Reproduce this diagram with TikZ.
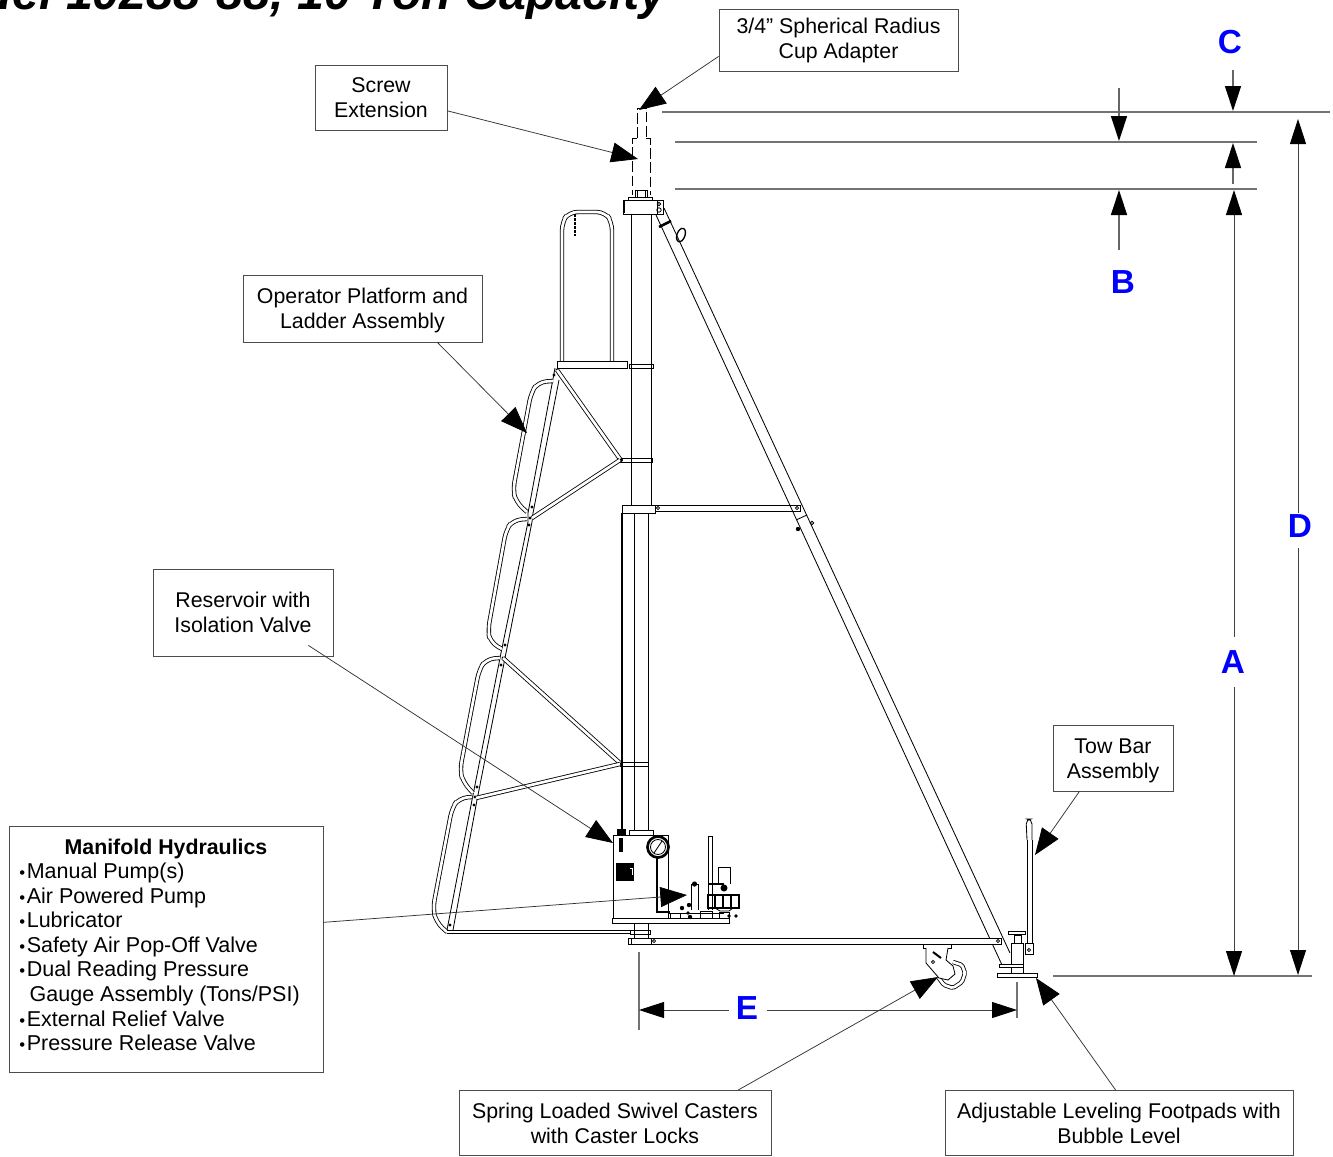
\documentclass[tikz,border=0pt]{standalone}
\usepackage{fontspec}
\setmainfont{Liberation Sans}
\usetikzlibrary{arrows.meta}
\newcommand{\itm}{{\fontsize{10}{8}\selectfont •}\hspace{1pt}}
\tikzset{
  callout/.style={draw=black!70, line width=.5pt, align=center, inner sep=0pt,
    font=\fontsize{12.8}{15}\selectfont},
  leader/.style={draw=black!80, line width=.45pt, -{Triangle[length=16pt,width=12pt,fill=black,color=black]}},
  dimline/.style={draw=black!55, line width=.9pt},
  dimarrow/.style={draw=black!60, line width=.8pt, -{Triangle[length=15pt,width=9.6pt,fill=black,color=black]}},
  longarrow/.style={draw=black!75, line width=.55pt, -{Triangle[length=15pt,width=9.6pt,fill=black,color=black]}},
  dimlabel/.style={text=blue, inner sep=0pt, font=\fontsize{20}{20}\bfseries\selectfont},
  part/.style={draw=black, line width=.5pt},
  heavy/.style={draw=black, line width=1.1pt},
  rail/.style={draw=black, line width=.5pt, double=white, double distance=1.6pt, rounded corners=5pt},
  dashline/.style={draw=black, line width=.6pt, dash pattern=on 6.5pt off 2pt}
}
\begin{document}
\begin{tikzpicture}[x=0.6pt, y=-0.6pt]
  \useasboundingbox (0,0) rectangle (1333,1156);
  \node[anchor=base east, font=\fontsize{29}{30}\bfseries\itshape\selectfont] (title) at (672,9) {Model 10288-88, 10 Ton Capacity};

  % column and collar
  \draw[part] (631,214) -- (631,505) (651,214) -- (651,505);
  \draw[part] (634,513) -- (634,830) (648,513) -- (648,830);
  \draw[part, fill=white] (623,200) rectangle (663,214);
  \draw[heavy] (624,201) -- (624,213);
  \draw[part] (657,200) -- (657,214) (628,200) -- (628,197) -- (652,197) -- (652,200);
  \draw[part] (635,197) -- (635,190) -- (647,190) -- (647,197) (637,190) -- (637,197) (645,190) -- (645,197);
  \draw[part] (659,204) circle (1.8) (659,210) circle (2.2);
  \draw[dashline] (637,138) -- (637,108) -- (646,108) -- (646,138);
  \draw[dashline] (637,138) -- (632,138) -- (632,195) (646,138) -- (650,138) -- (650,195);
  \draw[heavy] (622,513) -- (622,830);

  % long brace
  \draw[part] (656,215) -- (1002,965) (664,208) -- (1010,953);
  \draw[line width=1.5pt] (659,227) -- (671,221);
  \draw[part] (796,520) -- (807,515);
  \fill (798,529) circle (2.2);
  \draw[part] (812,523) circle (1.8);
  \draw[line width=.8pt, rotate around={-20:(681,235)}] (681,235) ellipse (4 and 7);

  % bands and bars on the column
  \draw[part, fill=white] (622,505) rectangle (655,513);
  \draw[part] (655,505) -- (800,505) -- (800,511) -- (655,511);
  \draw[part] (797,508) circle (1.6) (658,508) circle (1.6);
  \draw[part] (629,364.5) -- (653,364.5) -- (653,368) -- (629,368) -- cycle;
  \draw[part] (620,458) -- (652,458) -- (652,462) -- (620,462) -- cycle;
  \draw[part] (620,762) -- (648,762) -- (648,766) -- (620,766) -- cycle;
  \draw[part] (630,930) -- (650,930) -- (650,934) -- (630,934) -- cycle;
  \fill (621,460) circle (2) (621,764) circle (2);

  % top rail and platform
  \draw[rail] (562,361) -- (562,222) -- (569,212) -- (605,212) -- (612,222) -- (612,361);
  \draw[line width=1.6pt, dash pattern=on 1.8pt off .6pt] (575,214) -- (575,236);
  \draw[part, fill=white] (557,361) rectangle (627,368);

  % ladder stringers
  \draw[part] (555,368) -- (528,513) -- (528,522) -- (502,648) -- (500,658) -- (473,795) -- (472,800) -- (447,930);
  \draw[part] (559,380) -- (533,513) -- (532,522) -- (507,648) -- (505,658) -- (478,795) -- (477,800) -- (453,930);
  \foreach \px/\py in {557/370,554/375,532/507,530/518,529/525,505/645,503/658,501/665,477/787,475/797,474/805,450/925,447/932}
    \fill (\px,\py) circle (1.6);

  % hand rails, one for each ladder section
  \draw[rail] (553,381) -- (538,382) -- (531,393) -- (513,490) -- (516,502) -- (527,512);
  \draw[rail] (527,519) -- (513,520) -- (506,530) -- (488,630) -- (490,642) -- (502,649);
  \draw[rail] (500,658) -- (486,659) -- (479,670) -- (460,770) -- (463,782) -- (473,793);
  \draw[rail] (472,797) -- (459,798) -- (452,808) -- (433,908) -- (436,922) -- (447,932);

  % ladder braces
  \draw[rail] (557,370) -- (620,459);
  \draw[rail] (620,460) -- (532,518);
  \draw[rail] (503,658) -- (620,763);
  \draw[rail] (620,764) -- (476,798);
  \draw[rail] (447,932) -- (630,932);

  % reservoir and manifold
  \draw[part] (613,835) rectangle (668,918);
  \draw[part, fill=white] (612,918) rectangle (729,923);
  \fill (616,863) rectangle (634,881);
  \draw[white, line width=.4pt] (630,868) -- (632,868) -- (632,875);
  \draw[line width=2pt] (621,838) -- (621,852);
  \fill (617,829) rectangle (626,835);
  \draw[part] (629,830) rectangle (653,835);
  \draw[line width=1.6pt] (658,847) circle (10.5);
  \draw[part] (658,847) circle (7.5);
  \draw[part] (654,853) -- (662,841);
  \draw[line width=.9pt] (657,858) -- (657,912) -- (670,912);
  \draw[part] (691,910) -- (691,884) -- (698,884) -- (698,910);
  \fill (694.5,884) circle (2.6);
  \draw[part] (708,910) -- (708,836) -- (712.5,836) -- (712.5,910);
  \draw[part] (718,884) -- (718,867) -- (730,867) -- (730,884);
  \draw[line width=1.4pt] (709,884) -- (724,884);
  \fill (724,888) circle (3.5);
  \draw[line width=1.1pt] (708,895) rectangle (739,908);
  \draw[line width=1.1pt] (715,895) -- (715,908) (723,895) -- (723,908) (731,895) -- (731,908);
  \draw[part] (715,908) -- (720,911) -- (729,911) -- (733,908);
  \draw[part] (668,913) -- (724,913);
  \draw[part] (670,913) rectangle (680,918) (700,911) rectangle (712,918) (719,912) rectangle (729,918);
  \fill (682,908) circle (2.2) (689,905) circle (2.2) (690,917) circle (2.2) (688,913) circle (1.8) (729,916) circle (1.8) (736,916) circle (1.8);

  % lower frame
  \draw[part] (634,923) -- (634,938) (648,923) -- (648,938);
  \draw[part, fill=white] (628,938) rectangle (1001,944);
  \draw[part] (631,938) -- (631,944) (651,938) -- (651,944);
  \draw[part] (654,941) circle (1.6) (998,941) circle (1.6);

  % caster
  \draw[part] (923,944) rectangle (951,948);
  \draw[rail, rounded corners=1pt] (953,962) -- (962,965) -- (965,973) -- (962,982) -- (953,988) -- (944,985) -- (938,977);
  \draw[part, fill=white] (926,948) -- (926,963) -- (939,978) -- (948,980) -- (955,974) -- (953,966) -- (946,960) -- (948,948);
  \draw[part] (933,962) circle (1.6);
  \draw[line width=1.2pt] (933,952) -- (941,958);

  % foot and tow bar
  \draw[part, fill=white] (1011,943) rectangle (1023,964);
  \draw[part, fill=white] (1014,935) rectangle (1021,943);
  \draw[part, fill=white] (1008,931) rectangle (1025,934);
  \draw[part, fill=white] (999,964) rectangle (1023,967);
  \draw[part] (1011,967) -- (1011,973) (1023,967) -- (1023,973);
  \draw[part, fill=white] (997,973.5) rectangle (1037,977);
  \draw[part] (1027,943) -- (1027,840) (1032,943) -- (1032,840);
  \draw[part, rounded corners=3pt] (1027,840) -- (1026,819) -- (1032,819) -- (1032,840);
  \draw[part, fill=white] (1025,943) rectangle (1033,954);
  \draw[part] (1029,950) circle (1.6);

  % dimension lines
  \draw[dimline] (662,112) -- (1330,112);
  \draw[dimline] (675,142) -- (1257,142);
  \draw[dimline] (675,189) -- (1257,189);
  \draw[dimline] (1053,976) -- (1312,976);
  \draw[dimline] (639,952) -- (639,1030);
  \draw[dimline] (1017,982) -- (1017,1018);

  % dimension labels
  \node[dimlabel] (dimA) at (1233,662) {A};
  \node[dimlabel] (dimB) at (1123,282) {B};
  \node[dimlabel] (dimC) at (1230,42) {C};
  \node[dimlabel] (dimD) at (1300,526) {D};
  \node[dimlabel] (dimE) at (747,1008) {E};

  \coordinate (tipAup) at (1234,190);
  \coordinate (tipAdn) at (1234,976);
  \coordinate (tipDup) at (1298,119);
  \coordinate (tipDdn) at (1298,975);
  \coordinate (tipEl) at (639,1010);
  \coordinate (tipEr) at (1017,1010);
  \draw[longarrow] ([yshift=8pt]dimA.north -| tipAup) -- (tipAup);
  \draw[longarrow] ([yshift=-8pt]dimA.south -| tipAdn) -- (tipAdn);
  \draw[longarrow] ([yshift=1pt]dimD.north -| tipDup) -- (tipDup);
  \draw[longarrow] ([yshift=-6pt]dimD.south -| tipDdn) -- (tipDdn);
  \draw[longarrow] ([xshift=-4pt]dimE.west |- tipEl) -- (tipEl);
  \draw[longarrow] ([xshift=5pt]dimE.east |- tipEr) -- (tipEr);

  \coordinate (fromBa) at (1119,88);
  \coordinate (tipBa) at (1119,141);
  \coordinate (fromBb) at (1119,250);
  \coordinate (tipBb) at (1119,190);
  \coordinate (fromCa) at (1233,70);
  \coordinate (tipCa) at (1233,111);
  \coordinate (fromCb) at (1233,184);
  \coordinate (tipCb) at (1233,143);
  \draw[dimarrow] (fromBa) -- (tipBa);
  \draw[dimarrow] (fromBb) -- (tipBb);
  \draw[dimarrow] (fromCa) -- (tipCa);
  \draw[dimarrow] (fromCb) -- (tipCb);

  % callouts
  \node[callout, minimum width=143.4pt, minimum height=37.2pt] (cupbox) at (838.5,40) {3/4” Spherical Radius\\Cup Adapter};
  \node[callout, minimum width=79.2pt, minimum height=39pt] (screwbox) at (381,97.5) {Screw\\Extension};
  \node[callout, minimum width=143.4pt, minimum height=40.2pt] (platformbox) at (362.5,308.5) {\rule{0pt}{12pt}Operator Platform and\\Ladder Assembly};
  \node[callout, minimum width=108pt, minimum height=52.2pt] (reservoirbox) at (243,612.5) {Reservoir with\\Isolation Valve};
  \node[callout, minimum width=72pt, minimum height=39.6pt] (towbox) at (1113,758) {\rule{0pt}{12pt}Tow Bar\\Assembly};
  \node[callout, minimum width=187.2pt, minimum height=39pt] (casterbox) at (615,1123) {Spring Loaded Swivel Casters\\with Caster Locks};
  \node[callout, minimum width=208.8pt, minimum height=39pt] (footbox) at (1119,1123) {Adjustable Leveling Footpads with\\Bubble Level};
  \node[callout, minimum width=188.4pt, minimum height=147.6pt] (manifoldbox) at (166,949) {};
  \node[font=\fontsize{12.8}{15}\bfseries\selectfont, inner sep=0pt] (manifoldtitle) at (166,849) {Manifold Hydraulics};
  \node[anchor=north west, align=left, inner sep=0pt, font=\fontsize{12.9}{14.76}\selectfont] (manifoldlist) at (19,862.5)
    {\itm Manual Pump(s)\\ \itm Air Powered Pump\\ \itm Lubricator\\ \itm Safety Air Pop-Off Valve\\ \itm Dual Reading Pressure\\ \hspace{6.2pt}Gauge Assembly (Tons/PSI)\\ \itm External Relief Valve\\ \itm Pressure Release Valve};

  % leaders
  \coordinate (tipcup) at (639,110);
  \coordinate (tipscrew) at (638,159);
  \coordinate (tipplatform) at (527,433);
  \coordinate (tipreservoir) at (613,843);
  \coordinate (tipmanifold) at (687,895);
  \coordinate (tiptow) at (1035,855);
  \coordinate (tipcaster) at (938,977);
  \coordinate (tipfoot) at (1036,978);
  \draw[leader] ([yshift=9pt]cupbox.south west) -- (tipcup);
  \draw[leader] ([yshift=-8pt]screwbox.east) -- (tipscrew);
  \draw[leader] ([xshift=-27pt]platformbox.south east) -- (tipplatform);
  \draw[leader] ([xshift=-15pt,yshift=6.6pt]reservoirbox.south east) -- (tipreservoir);
  \draw[leader] ([yshift=16pt]manifoldbox.east) -- (tipmanifold);
  \draw[leader] ([xshift=-56.4pt]towbox.south east) -- (tiptow);
  \draw[leader] ([xshift=-20pt]casterbox.north east) -- (tipcaster);
  \draw[leader] ([xshift=-2pt]footbox.north) -- (tipfoot);
\end{tikzpicture}
\end{document}
